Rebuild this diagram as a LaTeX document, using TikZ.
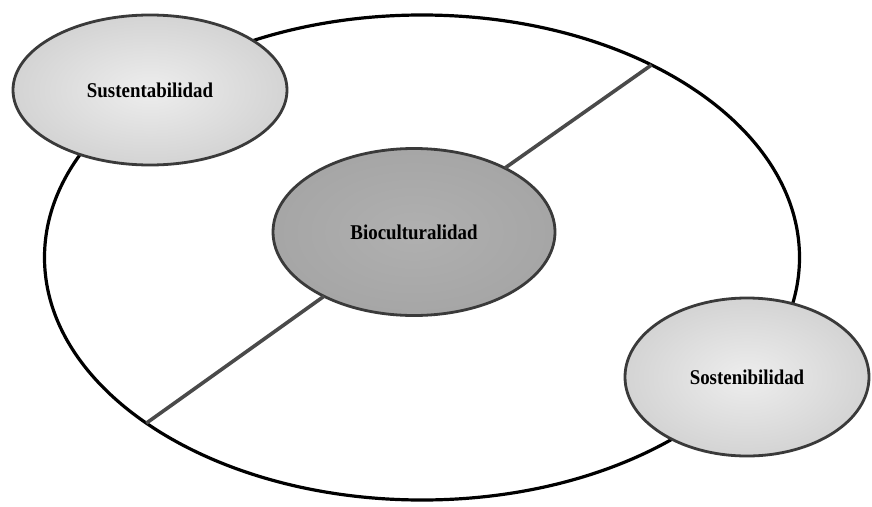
\documentclass[tikz,border=0pt]{standalone}
\usepackage{fontspec}
\usepackage{graphicx}
\setmainfont{Liberation Serif}
\usetikzlibrary{shapes.geometric}

\definecolor{rimgray}{HTML}{3A3A3A}
\definecolor{linkgray}{HTML}{4A4A4A}

\tikzset{
  frame/.style={ellipse, draw=black, line width=3.2pt, inner sep=0pt, outer sep=0pt},
  concept/.style={ellipse, draw=rimgray, line width=2.8pt, inner sep=0pt, outer sep=0pt,
    font=\fontsize{21}{24}\selectfont\bfseries},
  light/.style={concept, shading=radial, inner color=black!7, outer color=black!17},
  dark/.style={concept, shading=radial, inner color=black!31, outer color=black!35},
  link/.style={draw=linkgray, line width=3.6pt}
}
\newcommand{\narrow}[1]{\scalebox{0.9}[1]{#1}}

\begin{document}
\begin{tikzpicture}[x=1pt, y=-1pt]
  \useasboundingbox[fill=white] (0,0) rectangle (872,506);

  % outer ring
  \node[frame, minimum width=755pt, minimum height=485pt] (ring) at (422,257.5) {};

  % central concept and the line that crosses the ring through it
  \node[dark, minimum width=282pt, minimum height=167pt] (bio) at (414,232) {\narrow{Bioculturalidad}};
  \draw[link] (ring.40.9) -- (bio);
  \draw[link] (ring.211.6) -- (bio);

  % concepts sitting on the ring
  \node[light, minimum width=274pt, minimum height=150pt] (sust) at (150,90) {\narrow{Sustentabilidad}};
  \node[light, minimum width=244pt, minimum height=158pt] (sost) at (747,377) {\narrow{Sostenibilidad}};
\end{tikzpicture}
\end{document}
